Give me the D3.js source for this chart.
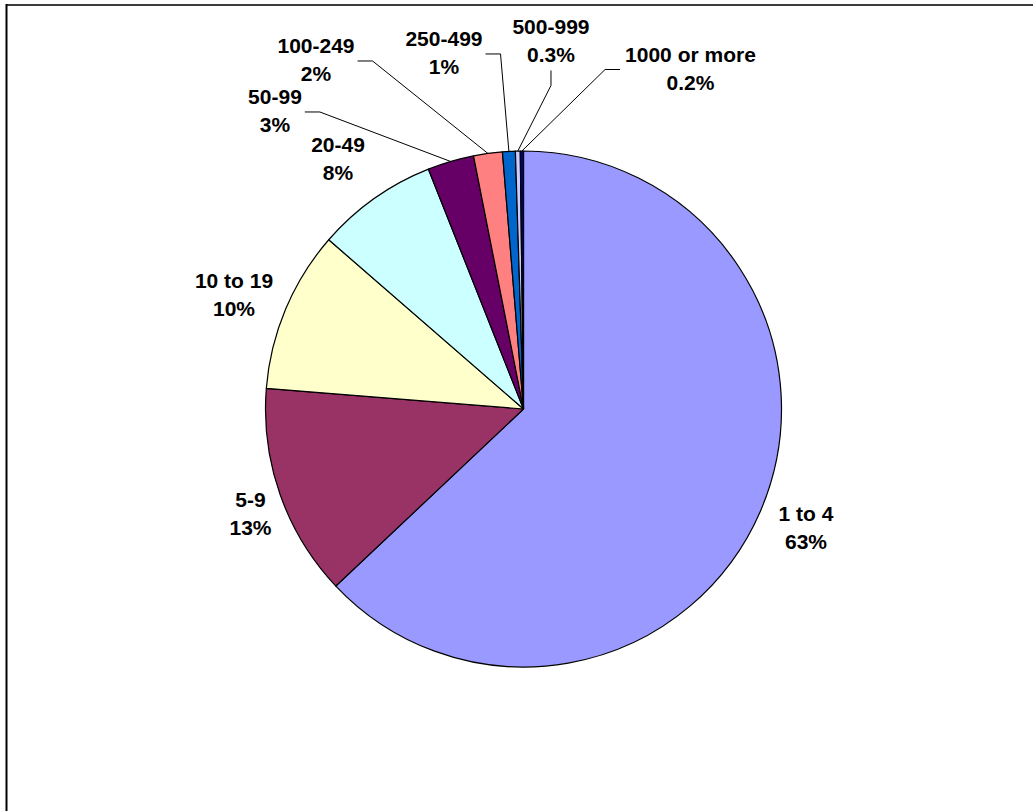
<!DOCTYPE html>
<html>
<head>
<meta charset="utf-8">
<script src="https://cdn.jsdelivr.net/npm/d3@7"></script>
<style>
  html, body { margin: 0; padding: 0; background: #fff; }
  svg { display: block; }
  text { font-family: "Liberation Sans", Arial, sans-serif; font-weight: bold; }
</style>
</head>
<body>
<svg id="chart" width="1033" height="811"></svg>
<script>
// ---- data ----
const categories = ["1 to 4", "5-9", "10 to 19", "20-49", "50-99", "100-249", "250-499", "500-999", "1000 or more"];
const shares = [62.9, 13.3, 10.1, 7.6, 2.9, 1.8, 0.8, 0.3, 0.2];
const shareLabels = ["63%", "13%", "10%", "8%", "3%", "2%", "1%", "0.3%", "0.2%"];
const colors = ["#9999FF", "#993366", "#FFFFCC", "#CCFFFF", "#660066", "#FF8080", "#0066CC", "#CCCCFF", "#000080"];

// ---- layout ----
const W = 1033, H = 811;
const cx = 523.5, cy = 409, R = 258;
const labelR = R + 34;
// label nudges (labels were dragged in the original chart)
const labelNudge = [[14.4, 3.1], [2.5, 7.8], [-20.3, -1.2], [-16.7, -12], [-166.1, -17.9], [-167.2, -59.8], [-63, -64.5], [33.9, -75.6], [168.8, -48.5]];
const leaderSide = [null, null, null, null, "right", "right", "right", "bottom", "left"];
const fontSize = 21, lineGap = 28;

const svg = d3.select("#chart");
svg.append("rect").attr("width", W).attr("height", H).attr("fill", "#fff");

// outer frame (top and left edges visible)
svg.append("line").attr("x1", 6.5).attr("x2", W).attr("y1", 5).attr("y2", 5)
  .attr("stroke", "#3c3c3c").attr("stroke-width", 2);
svg.append("line").attr("x1", 6.5).attr("x2", 6.5).attr("y1", 4).attr("y2", H)
  .attr("stroke", "#000").attr("stroke-width", 2);

const data = categories.map((c, i) => ({ cat: c, value: shares[i], label: shareLabels[i], color: colors[i], i }));

const pie = d3.pie().sort(null).value(d => d.value).startAngle(0).endAngle(2 * Math.PI);
const arcs = pie(data);
const arc = d3.arc().innerRadius(0).outerRadius(R);

const g = svg.append("g").attr("transform", `translate(${cx},${cy})`);
g.selectAll("path.slice").data(arcs).join("path")
  .attr("class", "slice")
  .attr("d", arc)
  .attr("fill", d => d.data.color)
  .attr("stroke", "#000")
  .attr("stroke-width", 1.2)
  .attr("stroke-linejoin", "round");

function polar(a, r) { return [cx + r * Math.sin(a), cy - r * Math.cos(a)]; }

const labelLayer = svg.append("g");
const leaderLayer = svg.insert("g", "g");

arcs.forEach((d, i) => {
  const mid = (d.startAngle + d.endAngle) / 2;
  const base = polar(mid, labelR);
  const ax = base[0] + labelNudge[i][0];
  const ay = base[1] + labelNudge[i][1];
  const t = labelLayer.append("text")
    .attr("text-anchor", "middle")
    .attr("font-size", fontSize)
    .attr("fill", "#000");
  t.append("tspan").attr("x", ax).attr("y", ay - 7).text(d.data.cat);
  t.append("tspan").attr("x", ax).attr("y", ay - 7 + lineGap).text(d.data.label);

  const side = leaderSide[i];
  if (side) {
    const bb = t.node().getBBox();
    const p0 = polar(mid, R);
    let attach, elbow;
    if (side === "right") {
      attach = [bb.x + bb.width + 3, ay + 1];
      elbow = [attach[0] + 15, attach[1]];
    } else if (side === "left") {
      attach = [bb.x - 5, ay + 1];
      elbow = [attach[0] - 15, attach[1]];
    } else {
      attach = [ax, bb.y + bb.height + 4];
      elbow = [attach[0], attach[1] + 15];
    }
    g.append("path")
      .attr("transform", `translate(${-cx},${-cy})`)
      .attr("d", d3.line()([attach, elbow, p0]))
      .attr("fill", "none")
      .attr("stroke", "#000")
      .attr("stroke-width", 1);
  }
});
</script>
</body>
</html>
